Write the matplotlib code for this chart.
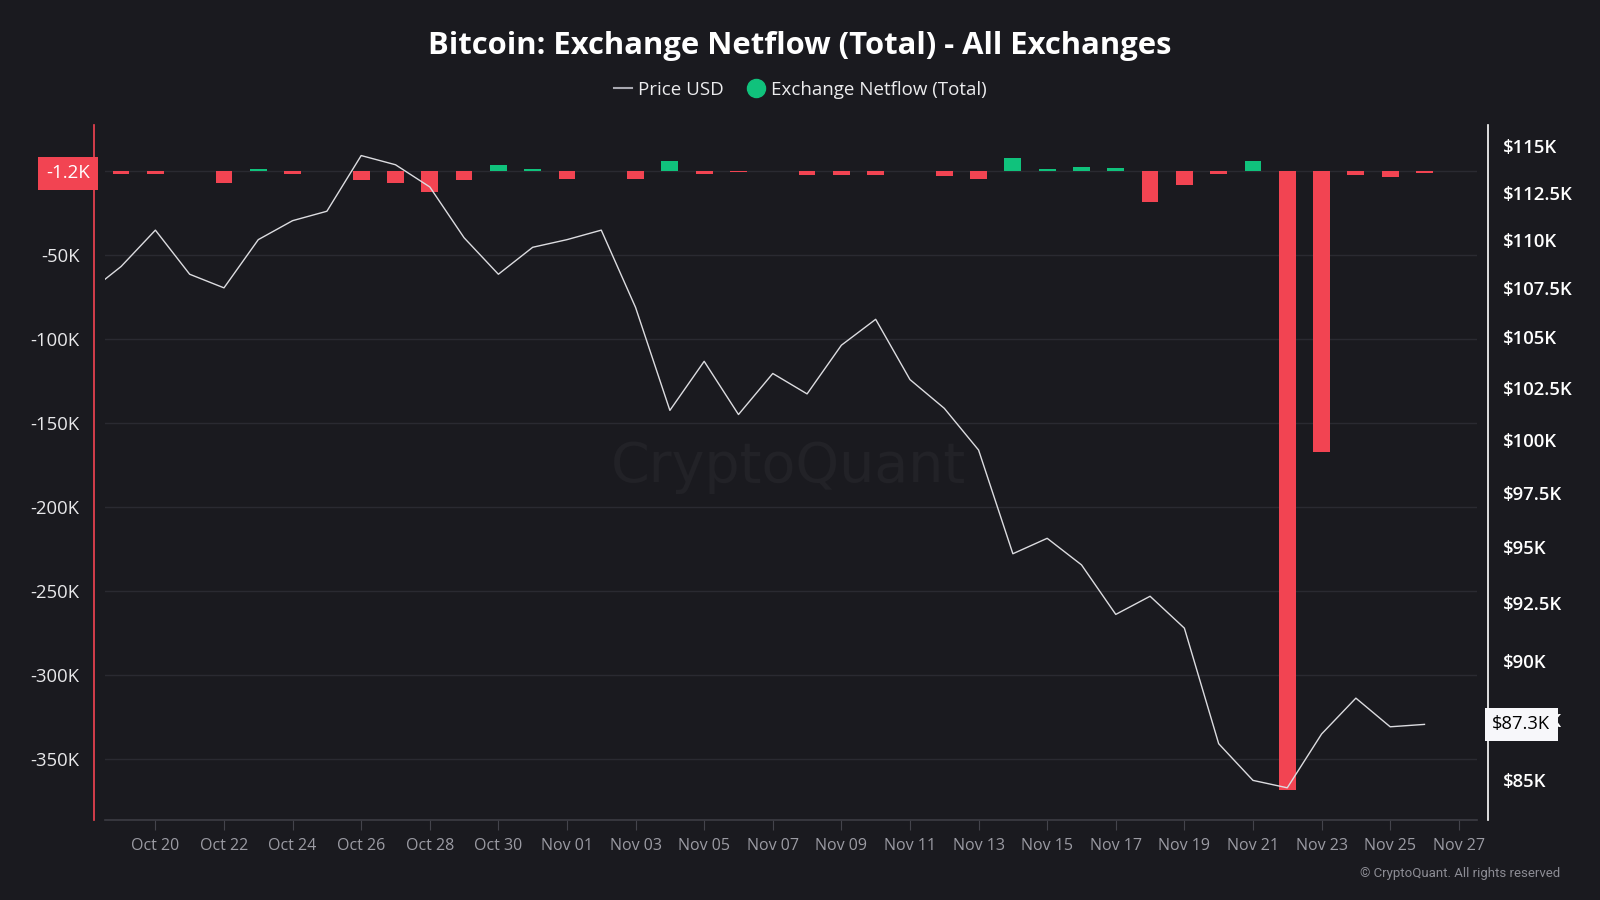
import matplotlib
matplotlib.use("Agg")
import matplotlib.pyplot as plt
import matplotlib.dates as mdates
from matplotlib.lines import Line2D
from matplotlib.ticker import FixedLocator, NullLocator
from matplotlib import font_manager
import pandas as pd

# ---- data ----
# netflow in K BTC, one bar per day Oct 19 .. Nov 26
flow_dates = pd.date_range("2025-10-19", "2025-11-26", freq="D")
netflow_k = [
    -1.4, -1.4, 0.3, -7.1, 1.5, -1.3, 0.0, -4.9, -7.1, -12.0, -4.9, 3.9, 1.5,
    -4.8, 0.3, -4.8, 6.4, -1.4, -0.6, 0.3, -2.0, -2.0, -2.0, 0.0, -2.5, -4.8,
    8.2, 1.5, 2.7, 2.2, -18.5, -8.3, -1.3, 6.0, -368.0, -167.0, -2.0, -3.2, -1.2,
]
# BTC price in K USD, Oct 18 .. Nov 26 (first point is clipped by the axis)
price_dates = pd.date_range("2025-10-18", "2025-11-26", freq="D")
price_k = [
    107.2, 108.6, 110.5, 108.2, 107.5, 110.0, 111.0, 111.5, 114.5, 114.0,
    112.8, 110.1, 108.2, 109.6, 110.0, 110.5, 106.5, 101.4, 103.8, 101.2,
    103.2, 102.2, 104.6, 105.9, 102.9, 101.5, 99.5, 94.7, 95.4, 94.2,
    92.0, 92.8, 91.4, 86.5, 85.0, 84.7, 86.9, 88.4, 87.2, 87.3,
]
left_ticks = [-350, -300, -250, -200, -150, -100, -50]
right_ticks = [85, 87.5, 90, 92.5, 95, 97.5, 100, 102.5, 105, 107.5, 110, 112.5, 115]
date_ticks = pd.date_range("2025-10-20", "2025-11-27", freq="2D")

# ---- colours ----
BG = "#1a1a1f"
RED = "#f24452"
GREEN = "#10c27c"
GRID = "#2a2a31"


def pick_font(*names):
    have = {f.name for f in font_manager.fontManager.ttflist}
    for n in names:
        if n in have:
            return n
    return "DejaVu Sans"


TICK_FONT = pick_font("Open Sans", "Noto Sans")
plt.rcParams["font.family"] = [TICK_FONT, "DejaVu Sans"]

fig = plt.figure(figsize=(16, 9), dpi=100, facecolor=BG)
ax = fig.add_axes([0.065625, 0.0889, 0.8575, 0.7722])
ax.set_facecolor(BG)

# ---- bars (left axis) ----
colors = [GREEN if v > 0 else RED for v in netflow_k]
ax.bar(flow_dates, netflow_k, width=0.49, color=colors, zorder=2)
ax.set_ylim(-386, 27.6)
ax.yaxis.set_major_locator(FixedLocator(left_ticks + [0]))
ax.set_yticklabels([f"{t}K" for t in left_ticks] + [""])
ax.grid(axis="y", color=GRID, lw=1)
ax.set_axisbelow(True)

ax.set_xlim(pd.Timestamp("2025-10-18 12:45"), pd.Timestamp("2025-11-27 12:45"))
ax.set_xticks(date_ticks)
ax.xaxis.set_major_formatter(mdates.DateFormatter("%b %d"))

for s in ("top", "right"):
    ax.spines[s].set_visible(False)
ax.spines["left"].set_color(RED)
ax.spines["left"].set_linewidth(1.2)
ax.spines["left"].set_position(("outward", 8))
ax.spines["bottom"].set_color("#3c3c44")
ax.spines["bottom"].set_linewidth(1.2)
ax.tick_params(axis="y", length=0, pad=10.5, labelsize=13.3, labelcolor="#e8e8ea")
ax.tick_params(axis="x", length=7, width=0.8, color="#44444c", pad=6,
               labelsize=11.5, labelcolor="#9b9ba3")

# ---- price line (right axis, log) ----
ax2 = ax.twinx()
ax2.plot(price_dates, price_k, color="#dcdce0", lw=1.0, zorder=3)
ax2.set_yscale("log")
ax2.set_ylim(83.41, 116.18)
ax2.yaxis.set_major_locator(FixedLocator(right_ticks))
ax2.yaxis.set_minor_locator(NullLocator())
ax2.set_yticklabels([f"${t:g}K" for t in right_ticks])
for s in ("top", "left", "bottom"):
    ax2.spines[s].set_visible(False)
ax2.spines["right"].set_color("white")
ax2.spines["right"].set_linewidth(1.2)
ax2.spines["right"].set_position(("outward", 8))
ax2.tick_params(axis="y", length=0, pad=10.5, labelsize=13.3, labelcolor="white")
for lbl in ax2.get_yticklabels():
    lbl.set_fontweight("semibold")
ax2.set_xlim(ax.get_xlim())

# ---- current value markers ----
ax.text(-0.0112, netflow_k[-1], f"{netflow_k[-1]:.1f}K", transform=ax.get_yaxis_transform(),
        ha="right", va="center", fontsize=13.5, color="white", zorder=5, clip_on=False,
        bbox=dict(boxstyle="square,pad=0.42", facecolor=RED, edgecolor="none"))
ax2.text(1.0112, price_k[-1], f"${price_k[-1]:.1f}K", transform=ax2.get_yaxis_transform(),
         ha="left", va="center", fontsize=13.2, color="black", zorder=5, clip_on=False,
         bbox=dict(boxstyle="square,pad=0.42", facecolor="#f7f7fa", edgecolor="none"))

# ---- title, legend, watermark ----
fig.text(0.5, 0.949, "Bitcoin: Exchange Netflow (Total) - All Exchanges",
         ha="center", va="center", fontsize=22.3, fontweight="bold", color="white")
handles = [
    Line2D([], [], color="#a8a8b0", lw=1.5),
    Line2D([], [], marker="o", ls="none", color=GREEN, markersize=13),
]
fig.legend(handles, ["Price USD", "Exchange Netflow (Total)"], loc="center",
           bbox_to_anchor=(0.5, 0.9), ncol=2, frameon=False,
           labelcolor="#ececee", handlelength=1.0, handletextpad=0.3, columnspacing=1.2,
           prop=dict(size=13.5))

fig.text(0.493, 1 - 467 / 900, "CryptoQuant", ha="center", va="center",
         fontsize=40, color="#222227", family="DejaVu Sans", zorder=0)
fig.text(1560 / 1600, 1 - 873 / 900, "© CryptoQuant. All rights reserved",
         ha="right", va="center", fontsize=9.5, color="#8c8c94",
         family=[pick_font("Roboto"), "DejaVu Sans"])

fig.savefig("out.png", dpi=100, facecolor=BG)
